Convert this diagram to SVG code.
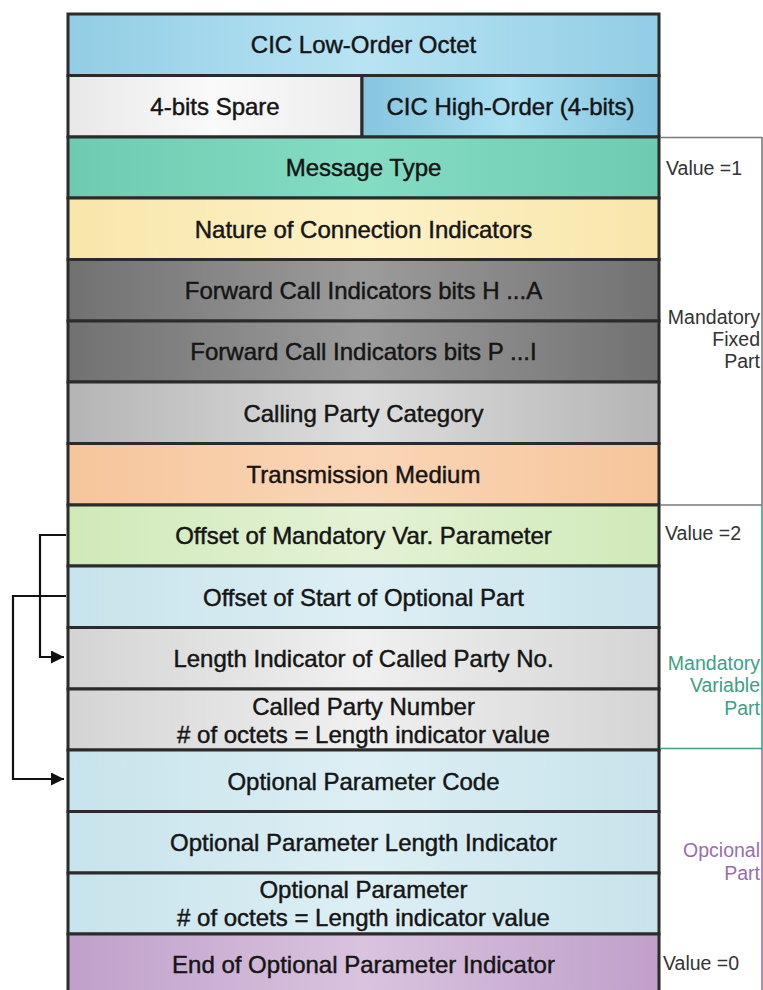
<svg xmlns="http://www.w3.org/2000/svg" width="763" height="990" viewBox="0 0 763 990">
<style>
.box{stroke:#2b2b2b;stroke-width:3}
.t{font-family:"Liberation Sans",Arial,sans-serif;font-size:24px;fill:#151515;stroke:#151515;stroke-width:0.45;text-anchor:middle}
.r{font-family:"Liberation Sans",Arial,sans-serif;font-size:19.5px;fill:#333}
.ra{text-anchor:end}
.g{fill:#3d9f86}
.p{fill:#9a6dae}
.conn{fill:none;stroke:#111;stroke-width:2.2}
.br{fill:none;stroke-width:1.6}
</style>
<defs>
<marker id="ah" markerWidth="14" markerHeight="14" refX="13" refY="6.5" orient="auto" markerUnits="userSpaceOnUse">
<path d="M0,0 L13,6.5 L0,13 Z" fill="#111"/>
</marker>
<linearGradient id="gBlue1"><stop offset="0" stop-color="#92cde5"/><stop offset="0.5" stop-color="#b8e3f3"/><stop offset="1" stop-color="#92cde5"/></linearGradient>
<linearGradient id="gWhite"><stop offset="0" stop-color="#e8e8e8"/><stop offset="0.5" stop-color="#fafafa"/><stop offset="1" stop-color="#ececec"/></linearGradient>
<linearGradient id="gBlue2"><stop offset="0" stop-color="#86c5df"/><stop offset="0.5" stop-color="#ace0f2"/><stop offset="1" stop-color="#82c2dd"/></linearGradient>
<linearGradient id="gTeal"><stop offset="0" stop-color="#6ecbb1"/><stop offset="0.5" stop-color="#84dcc3"/><stop offset="1" stop-color="#6ecbb1"/></linearGradient>
<linearGradient id="gYellow"><stop offset="0" stop-color="#f8e6aa"/><stop offset="0.5" stop-color="#fdf1c6"/><stop offset="1" stop-color="#f8e6aa"/></linearGradient>
<linearGradient id="gDark"><stop offset="0" stop-color="#717171"/><stop offset="0.5" stop-color="#9c9c9c"/><stop offset="1" stop-color="#717171"/></linearGradient>
<linearGradient id="gMid"><stop offset="0" stop-color="#b4b4b4"/><stop offset="0.5" stop-color="#dedede"/><stop offset="1" stop-color="#b4b4b4"/></linearGradient>
<linearGradient id="gPeach"><stop offset="0" stop-color="#f6c59b"/><stop offset="0.5" stop-color="#fad6b6"/><stop offset="1" stop-color="#f6c59b"/></linearGradient>
<linearGradient id="gGreen"><stop offset="0" stop-color="#d0e9b9"/><stop offset="0.5" stop-color="#e3f2d4"/><stop offset="1" stop-color="#d0e9b9"/></linearGradient>
<linearGradient id="gLBlue"><stop offset="0" stop-color="#c7e3eb"/><stop offset="0.5" stop-color="#ddeff4"/><stop offset="1" stop-color="#c7e3eb"/></linearGradient>
<linearGradient id="gLGray"><stop offset="0" stop-color="#d4d4d4"/><stop offset="0.5" stop-color="#f0f0f0"/><stop offset="1" stop-color="#d4d4d4"/></linearGradient>
<linearGradient id="gPurple"><stop offset="0" stop-color="#c0a0ca"/><stop offset="0.5" stop-color="#d9c3df"/><stop offset="1" stop-color="#c0a0ca"/></linearGradient>
</defs>
<rect width="763" height="990" fill="#fff"/>

<g id="cic-low"><rect class="box" x="68" y="14" width="591" height="61.5" fill="url(#gBlue1)"/><text class="t" x="363.5" y="53">CIC Low-Order Octet</text></g>
<g id="spare"><rect class="box" x="68" y="75.5" width="294" height="61.5" fill="url(#gWhite)"/><text class="t" x="215" y="114.5">4-bits Spare</text></g>
<g id="cic-high"><rect class="box" x="362" y="75.5" width="297" height="61.5" fill="url(#gBlue2)"/><text class="t" x="510.5" y="114.5">CIC High-Order (4-bits)</text></g>
<g id="message-type"><rect class="box" x="68" y="137" width="591" height="61" fill="url(#gTeal)"/><text class="t" x="363.5" y="176">Message Type</text></g>
<g id="nature"><rect class="box" x="68" y="198" width="591" height="61.5" fill="url(#gYellow)"/><text class="t" x="363.5" y="237.5">Nature of Connection Indicators</text></g>
<g id="fwd-ha"><rect class="box" x="68" y="259.5" width="591" height="61.5" fill="url(#gDark)"/><text class="t" x="363.5" y="299">Forward Call Indicators bits H ...A</text></g>
<g id="fwd-pi"><rect class="box" x="68" y="321" width="591" height="61" fill="url(#gDark)"/><text class="t" x="363.5" y="360">Forward Call Indicators bits P ...I</text></g>
<g id="calling"><rect class="box" x="68" y="382" width="591" height="61.5" fill="url(#gMid)"/><text class="t" x="363.5" y="421.5">Calling Party Category</text></g>
<g id="transmission"><rect class="box" x="68" y="443.5" width="591" height="61.5" fill="url(#gPeach)"/><text class="t" x="363.5" y="483">Transmission Medium</text></g>
<g id="offset-mand"><rect class="box" x="68" y="505" width="591" height="61" fill="url(#gGreen)"/><text class="t" x="363.5" y="544">Offset of Mandatory Var. Parameter</text></g>
<g id="offset-opt"><rect class="box" x="68" y="566" width="591" height="61.5" fill="url(#gLBlue)"/><text class="t" x="363.5" y="605.5">Offset of Start of Optional Part</text></g>
<g id="length-ind"><rect class="box" x="68" y="627.5" width="591" height="61.5" fill="url(#gLGray)"/><text class="t" x="363.5" y="667">Length Indicator of Called Party No.</text></g>
<g id="called-number"><rect class="box" x="68" y="689" width="591" height="61" fill="url(#gLGray)"/><text class="t" x="363.5" y="715">Called Party Number</text><text class="t" x="363.5" y="743">#  of octets = Length indicator value</text></g>
<g id="opt-code"><rect class="box" x="68" y="750" width="591" height="61.5" fill="url(#gLBlue)"/><text class="t" x="363.5" y="789.5">Optional Parameter Code</text></g>
<g id="opt-len"><rect class="box" x="68" y="811.5" width="591" height="61.5" fill="url(#gLBlue)"/><text class="t" x="363.5" y="851">Optional Parameter Length Indicator</text></g>
<g id="opt-param"><rect class="box" x="68" y="873" width="591" height="61" fill="url(#gLBlue)"/><text class="t" x="363.5" y="898">Optional Parameter</text><text class="t" x="363.5" y="926">#  of octets = Length indicator value</text></g>
<g id="end-opt"><rect class="box" x="68" y="934" width="591" height="62" fill="url(#gPurple)"/><text class="t" x="363.5" y="973">End of Optional Parameter Indicator</text></g>

<g id="brackets">
<path class="br" stroke="#7a7a7a" d="M660,137.5 H762 V505 H660"/>
<path class="br" stroke="#3d9f86" d="M762,505 V748.5 H660"/>
<path class="br" stroke="#9a6dae" d="M762,748.5 V990"/>
</g>
<g id="labels">
<text class="r" x="666" y="175">Value =1</text>
<text class="r ra" x="760" y="324">Mandatory</text>
<text class="r ra" x="760" y="346">Fixed</text>
<text class="r ra" x="760" y="368">Part</text>
<text class="r" x="665" y="540">Value =2</text>
<text class="r ra g" x="760" y="670">Mandatory</text>
<text class="r ra g" x="760" y="692">Variable</text>
<text class="r ra g" x="760" y="715">Part</text>
<text class="r ra p" x="760" y="857">Opcional</text>
<text class="r ra p" x="760" y="880">Part</text>
<text class="r" x="663" y="970">Value =0</text>
</g>

<g id="connectors">
<path class="conn" d="M66,535 H40 V657 H64" marker-end="url(#ah)"/>
<path class="conn" d="M66,596 H13 V779 H64" marker-end="url(#ah)"/>
</g>
</svg>
